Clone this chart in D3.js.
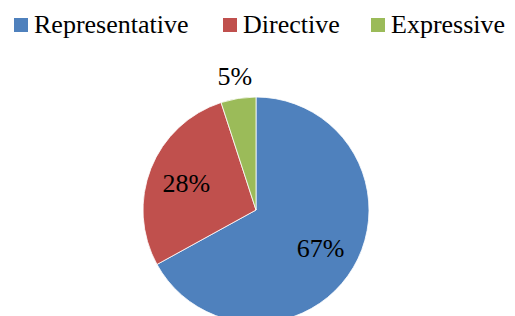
<!DOCTYPE html>
<html>
<head>
<meta charset="utf-8">
<script src="https://cdnjs.cloudflare.com/ajax/libs/d3/7.8.5/d3.min.js"></script>
<style>
body { margin: 0; background: #fff; }
</style>
</head>
<body>
<svg width="515" height="316"></svg>
<script>
var categories = ["Representative", "Directive", "Expressive"];
var values = [67, 28, 5];
var colors = ["#4F81BD", "#C0504D", "#9BBB59"];
var legendX = [14, 223, 371];

var font = "'Times New Roman', 'Liberation Serif', 'DejaVu Serif', serif";
var svg = d3.select("svg");
var cx = 256, cy = 210, r = 113;

var pie = d3.pie().sort(null).value(d => d.value);
var data = categories.map((c, i) => ({ name: c, value: values[i], color: colors[i] }));
var arcs = pie(data);

var arc = d3.arc().innerRadius(0).outerRadius(r);
var g = svg.append("g").attr("transform", "translate(" + cx + "," + cy + ")");

g.selectAll("path")
    .data(arcs)
    .enter().append("path")
    .attr("d", arc)
    .attr("fill", d => d.data.color)
    .attr("stroke", "#fff")
    .attr("stroke-width", 0.8);

// small slices get their label outside the pie
g.selectAll("text.lbl")
    .data(arcs)
    .enter().append("text")
    .attr("class", "lbl")
    .attr("transform", d => {
        var lr = d.data.value < 10 ? 136 : 75;
        var c = d3.arc().innerRadius(lr).outerRadius(lr).centroid(d);
        return "translate(" + c[0] + "," + c[1] + ")";
    })
    .attr("dy", "0.35em")
    .attr("text-anchor", "middle")
    .attr("font-family", font)
    .attr("font-size", 26)
    .text(d => d.data.value + "%");

var legend = svg.append("g")
    .selectAll("g")
    .data(data)
    .enter().append("g")
    .attr("transform", (d, i) => "translate(" + legendX[i] + ",18)");

legend.append("rect")
    .attr("width", 14)
    .attr("height", 14)
    .attr("fill", d => d.color);

legend.append("text")
    .attr("x", 20)
    .attr("y", 15)
    .attr("font-family", font)
    .attr("font-size", 26)
    .text(d => d.name);
</script>
</body>
</html>
